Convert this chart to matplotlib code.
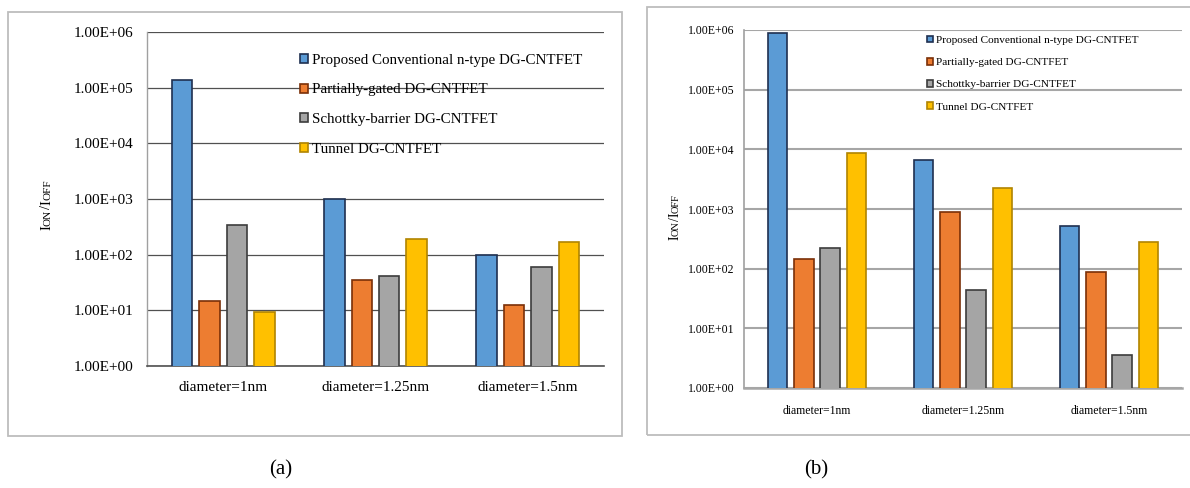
import matplotlib
matplotlib.use("Agg")
import matplotlib.pyplot as plt
import numpy as np
from matplotlib.patches import Rectangle

plt.rcParams['font.family'] = ['Liberation Serif', 'DejaVu Serif']

categories = ['diameter=1nm', 'diameter=1.25nm', 'diameter=1.5nm']
series = ['Proposed Conventional n-type DG-CNTFET',
          'Partially-gated DG-CNTFET',
          'Schottky-barrier DG-CNTFET',
          'Tunnel DG-CNTFET']

# panel (a)
vals_a = [[1.4e5, 1000, 100],
          [14.5, 35, 12.4],
          [340, 41, 60],
          [9.3, 190, 167]]
# panel (b)
vals_b = [[8.9e5, 6600, 515],
          [145, 890, 88],
          [224, 44, 3.6],
          [8700, 2240, 280]]

yticks = [1e0, 1e1, 1e2, 1e3, 1e4, 1e5, 1e6]
ytick_labels = ['1.00E+00', '1.00E+01', '1.00E+02', '1.00E+03',
                '1.00E+04', '1.00E+05', '1.00E+06']

# y label in small caps: (text, big letter?)
ylabel_parts = [('I', True), ('ON', False), ('/', True), ('I', True), ('OFF', False)]

colors = ['#5B9BD5', '#ED7D31', '#A5A5A5', '#FFC000']
edges = ['#1F3050', '#7A3008', '#3C3C3C', '#B08400']

W, H = 1190, 488
fig = plt.figure(figsize=(W / 100, H / 100), dpi=100)


def px(x0, y0, x1, y1):
    # pixel box -> figure fraction
    return [x0 / W, 1 - y1 / H, (x1 - x0) / W, (y1 - y0) / H]


# outer frames
for box in [(8, 12, 622, 436), (647, 7, 1195, 435)]:
    r = Rectangle((box[0] / W, 1 - box[3] / H), (box[2] - box[0]) / W,
                  (box[3] - box[1]) / H, transform=fig.transFigure,
                  fill=False, edgecolor='#BDBDBD', linewidth=1.3)
    fig.patches.append(r)


def panel(ax, vals, gcol, glw, fs, lfs, lspace, lanchor, pad_y, pad_x):
    x = np.arange(len(categories))
    for i in range(4):
        ax.bar(x + (i - 1.5) * 0.18, vals[i], width=0.135, color=colors[i],
               edgecolor=edges[i], linewidth=1.2, label=series[i], zorder=3)
    ax.set_yscale('log')
    ax.set_ylim(1, 1e6)
    ax.set_xlim(-0.5, 2.5)
    ax.yaxis.set_major_locator(matplotlib.ticker.FixedLocator(yticks))
    ax.yaxis.set_minor_locator(matplotlib.ticker.NullLocator())
    ax.set_yticklabels(ytick_labels)
    ax.set_xticks(x)
    ax.set_xticklabels(categories)
    ax.tick_params(axis='y', length=0, labelsize=fs, pad=pad_y)
    ax.tick_params(axis='x', length=0, labelsize=fs, pad=pad_x)
    ax.grid(axis='y', color=gcol, linewidth=glw, zorder=0)
    ax.spines['right'].set_visible(False)
    ax.spines['top'].set_visible(False)
    ax.spines['left'].set_color('#A0A0A0')
    ax.spines['bottom'].set_color(gcol)
    ax.spines['bottom'].set_linewidth(glw + 0.3)
    leg = ax.legend(loc='upper left', bbox_to_anchor=lanchor, frameon=False,
                    fontsize=lfs, handlelength=0.55, handleheight=0.55,
                    handletextpad=0.25, labelspacing=lspace, borderpad=0)
    return leg


ax1 = fig.add_axes(px(147, 32, 604, 366))
panel(ax1, vals_a, '#505050', 0.9, 11, 10.8, 1.12, (0.318, 0.958), 10, 11)
ax1.spines['left'].set_linewidth(1.0)

ax2 = fig.add_axes(px(744, 30, 1182, 388))
panel(ax2, vals_b, '#A6A6A6', 1.5, 8.5, 8.1, 1.14, (0.405, 1.0), 7, 12)
ax2.spines['left'].set_linewidth(1.2)


def small_caps_label(xc, yc, big, small):
    # stack pieces bottom-to-top, then shift so the whole label is centred
    renderer = fig.canvas.get_renderer()
    texts = []
    ypos = 0.0
    for s, is_big in ylabel_parts:
        t = fig.text((xc + 5) / W, 0, s, rotation=90,
                     fontsize=big if is_big else small,
                     ha='left', va='baseline', rotation_mode='anchor')
        texts.append((t, ypos))
        ypos += t.get_window_extent(renderer).height
    y0 = (H - yc) - ypos / 2
    for t, off in texts:
        t.set_y((y0 + off) / H)


small_caps_label(45, 205, 10.5, 8)
small_caps_label(674, 217, 10, 7.5)

fig.text(281 / W, 1 - 470 / H, '(a)', fontsize=15, ha='center', va='center')
fig.text(816 / W, 1 - 470 / H, '(b)', fontsize=15, ha='center', va='center')

fig.savefig('out.png', dpi=100)
